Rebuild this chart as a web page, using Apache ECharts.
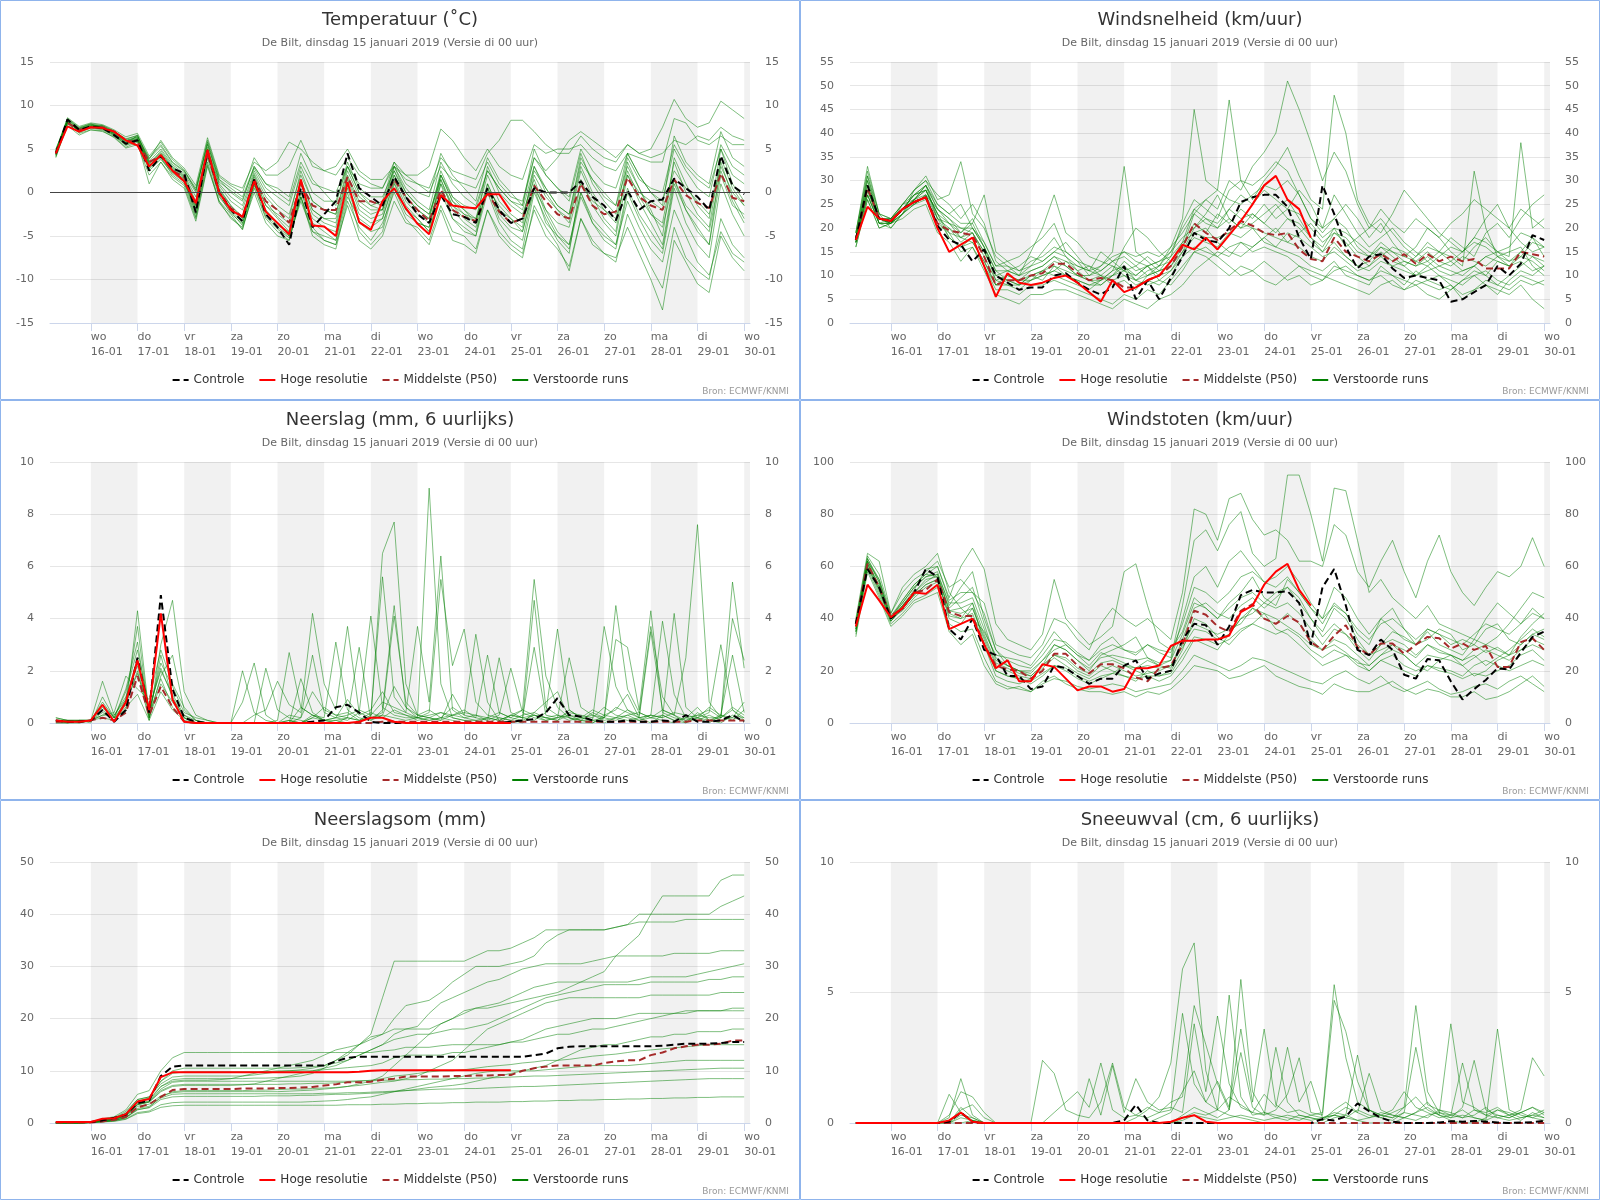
<!DOCTYPE html>
<html>
<head>
<meta charset="utf-8">
<title>ECMWF pluim De Bilt</title>
<script src="https://cdn.jsdelivr.net/npm/echarts@6/dist/echarts.min.js"></script>
<style>
  body { margin: 0; background: #fff; }
  .panel { position: absolute; width: 800px; height: 400px; }
</style>
</head>
<body>
<div class="panel" id="temp" style="left:0;top:0"></div>
<div class="panel" id="wind" style="left:800px;top:0"></div>
<div class="panel" id="prec" style="left:0;top:400px"></div>
<div class="panel" id="gust" style="left:800px;top:400px"></div>
<div class="panel" id="sum" style="left:0;top:800px"></div>
<div class="panel" id="snow" style="left:800px;top:800px"></div>
<script>
// tijdstippen: uren na 15-01 00 UTC (15-01 06 t/m 30-01 00, 6-uurlijks)
const hours = [6,12,18,24,30,36,42,48,54,60,66,72,78,84,90,96,102,108,114,120,126,132,138,144,150,156,162,168,174,180,
  186,192,198,204,210,216,222,228,234,240,246,252,258,264,270,276,282,288,294,300,306,312,318,324,330,336,342,348,354,360]
const dayTicks = [24,48,72,96,120,144,168,192,216,240,264,288,312,336,360]
const dayLabels = ['wo\n16-01','do\n17-01','vr\n18-01','za\n19-01','zo\n20-01','ma\n21-01','di\n22-01','wo\n23-01',
  'do\n24-01','vr\n25-01','za\n26-01','zo\n27-01','ma\n28-01','di\n29-01','wo\n30-01']
// grijze banden (even dagen)
const greyDays = [[24,48],[72,96],[120,144],[168,192],[216,240],[264,288],[312,336],[360,363]]
const subTitle = 'De Bilt, dinsdag 15 januari 2019 (Versie di 00 uur)'

// ---- Temperatuur ----
const tempControl = [4.5,8.4,7.2,7.6,7.4,6.6,5.6,6.0,2.5,4.2,2.8,2.2,
  -2.3,4.8,0.0,-2.0,-3.3,1.5,-2.5,-4.0,-6.0,0.5,-4.0,-2.5,
  -1.0,4.5,0.5,-0.5,-1.5,1.8,-0.5,-2.5,-3.5,-0.3,-2.5,-2.8,
  -3.5,0.5,-2.0,-3.5,-3.0,0.5,0.0,0.0,0.0,1.3,-0.5,-1.5,
  -3.2,0.2,-2.0,-1.0,-0.8,1.6,0.5,-0.5,-2.0,4.2,0.8,-0.2]
const tempHires = [4.5,7.6,7.0,7.5,7.4,7.0,6.0,5.4,3.0,4.3,2.5,1.3,
  -1.2,4.9,0.0,-2.0,-2.8,1.3,-2.2,-3.5,-4.8,1.5,-3.8,-3.9,
  -5.0,1.2,-3.4,-4.3,-1.0,0.5,-1.8,-3.6,-4.8,-0.3,-1.5,-1.7,
  -1.8,-0.2,-0.2,-2.2]
const tempP50 = [4.5,8.0,7.2,7.5,7.5,7.0,6.0,5.8,3.5,4.2,2.5,1.8,
  -1.5,4.5,0.0,-1.8,-2.8,1.5,-1.0,-2.0,-3.5,1.0,-1.5,-2.0,
  -2.0,1.8,-1.0,-1.0,-1.5,1.5,-0.5,-2.0,-3.3,0.3,-2.0,-2.8,
  -3.3,0.0,-2.2,-3.5,-3.0,0.8,-1.0,-2.5,-3.0,1.0,-1.5,-2.5,
  -2.2,1.7,-0.5,-1.5,-2.0,1.5,-0.3,-1.2,-1.8,2.2,-0.6,-1.0]
const tempRuns = [
  [4.2,8.3,7.0,7.6,7.5,6.8,5.7,6.2,3.0,4.5,2.8,1.8, -2.0,4.5,0.5,-1.5,-3.0,1.8,-1.5,-3.0,-4.5,1.0,-2.5,-3.5,
   -4.0,1.5,-2.0,-3.0,-2.5,2.0,-1.0,-2.5,-3.5,1.0,-1.5,-2.5, -3.0,0.5,-2.5,-4.0,-4.5,0.5,-2.0,-3.5,-4.0,1.0,-1.0,-2.0,
   -3.0,2.0,0.0,-1.0,-2.0,2.5,0.5,-1.0,-2.5,3.0,0.0,-1.5],
  [4.8,8.0,7.3,7.8,7.6,7.0,6.2,6.5,4.0,5.5,3.5,2.5, 0.5,5.5,1.5,0.5,-0.5,3.0,1.0,0.0,-1.0,3.5,1.0,0.5,
   0.0,3.0,1.0,0.5,0.5,3.0,1.5,1.0,0.5,4.0,2.5,2.0, 1.5,4.5,6.0,8.3,8.3,7.0,5.5,4.5,4.5,6.5,5.0,4.0,
   3.5,5.5,4.5,4.0,4.5,6.0,5.5,6.5,6.0,7.5,6.5,6.0],
  [4.0,8.0,6.8,7.2,7.0,6.4,5.2,5.8,1.0,3.5,1.5,0.5, -3.3,3.0,-1.0,-2.5,-4.3,0.5,-3.0,-4.5,-5.5,-0.5,-4.0,-5.5,
   -6.0,-1.5,-5.5,-6.5,-5.0,-1.0,-3.5,-4.0,-5.5,-1.5,-4.5,-5.0, -6.5,-2.0,-4.5,-6.0,-7.0,-2.0,-5.0,-6.5,-8.5,-3.0,-6.0,-7.0,
   -7.5,-4.0,-7.0,-10.0,-13.5,-5.5,-8.0,-10.5,-11.5,-5.0,-7.5,-9.0],
  [4.5,8.5,7.5,7.9,7.4,6.6,5.5,6.6,3.5,4.0,2.0,1.0, -1.5,5.0,0.0,-2.0,-3.5,1.0,-2.0,-3.5,-5.0,0.0,-3.5,-4.5,
   -5.5,0.5,-3.5,-4.5,-4.0,1.0,-2.0,-3.0,-4.5,0.0,-3.0,-4.0, -5.0,1.0,-2.0,-3.5,-3.0,2.5,0.5,-1.5,-2.5,3.5,1.5,0.0,
   -1.5,3.0,0.5,-2.5,-4.0,1.5,-1.5,-3.0,-4.5,2.5,-1.0,-3.5],
  [5.0,8.2,7.2,7.7,7.7,7.1,6.0,6.0,3.8,6.0,4.0,2.8, 0.8,6.3,2.0,1.0,0.5,3.5,2.5,3.5,5.8,5.0,3.5,2.5,
   2.0,4.0,2.0,1.0,0.5,3.5,2.0,1.0,0.0,3.0,1.5,1.0, 0.5,3.5,1.0,-0.5,-1.0,4.0,2.5,4.0,6.0,7.0,6.0,5.0,
   4.0,5.5,4.5,5.0,7.5,10.7,8.5,7.5,8.0,10.5,9.5,8.5],
  [4.3,7.9,6.9,7.4,7.2,6.5,5.4,5.9,2.5,3.8,2.2,1.2, -2.8,4.0,-0.5,-2.2,-3.8,1.2,-2.5,-4.0,-5.0,-0.5,-4.5,-5.0,
   -5.5,0.0,-4.5,-6.0,-4.5,0.5,-2.5,-3.5,-4.0,2.0,-1.0,-2.0, -3.5,3.0,0.0,-1.5,-2.5,1.5,-2.0,-4.5,-6.0,0.0,-3.0,-4.5,
   -6.0,-1.0,-4.0,-6.5,-8.0,-2.0,-5.0,-8.0,-9.5,-4.5,-7.0,-8.0],
  [4.6,8.1,7.1,7.5,7.3,6.9,5.9,6.3,3.2,4.8,3.0,2.0, -0.5,5.2,1.0,-0.5,-1.5,2.5,0.0,-1.5,-2.5,2.0,-1.0,-2.0,
   -2.5,2.5,-0.5,-1.5,-1.0,3.5,1.0,0.0,-0.5,4.5,2.0,0.5, -1.0,4.0,1.5,0.0,-1.5,5.0,2.0,0.5,-1.0,4.5,1.0,-1.0,
   -2.5,4.0,1.5,0.5,0.0,5.5,3.0,1.5,0.5,5.0,2.0,1.0],
  [4.4,8.2,7.0,7.6,7.6,6.7,5.6,6.1,2.8,4.2,2.6,1.5, -2.5,3.5,-1.0,-3.0,-4.0,0.0,-3.5,-5.0,-5.5,-0.5,-5.0,-6.0,
   -6.5,-1.0,-4.0,-5.5,-3.5,0.0,-3.0,-4.5,-6.0,-2.0,-5.5,-6.0, -7.0,-2.0,-5.0,-6.5,-7.5,-1.5,-4.0,-6.0,-9.0,-3.0,-5.5,-7.0,
   -8.0,-2.5,-5.5,-8.5,-11.0,-4.0,-7.5,-9.0,-10.0,-3.0,-6.0,-7.5],
  [4.7,8.4,7.4,7.8,7.5,7.0,6.1,6.6,3.6,5.0,3.2,2.2, 0.0,5.8,1.5,0.0,-1.0,3.0,1.0,0.5,-0.5,4.5,1.5,0.0,
   -1.5,3.5,0.5,-0.5,-0.5,2.5,0.0,-1.5,-2.5,1.5,-1.5,-3.0, -4.0,0.5,-1.5,-3.0,-4.5,1.0,-2.5,-5.0,-6.5,-0.5,-3.5,-5.0,
   -6.0,0.5,-2.5,-4.5,-6.5,1.0,-2.0,-4.5,-6.0,2.0,-1.5,-2.5],
  [4.1,7.7,6.6,7.2,7.1,6.3,5.1,5.5,2.0,3.5,1.8,0.8, -3.0,3.2,-1.2,-2.8,-4.2,0.8,-2.8,-4.2,-5.2,-1.0,-4.5,-5.5,
   -6.0,-0.5,-3.0,-4.0,-3.0,1.5,-1.5,-3.0,-4.5,1.0,-3.0,-4.5, -5.0,0.0,-3.5,-5.5,-6.5,0.0,-3.0,-5.5,-7.0,1.5,-1.5,-3.5,
   -5.0,2.0,-1.0,-3.5,-6.0,1.5,-2.0,-4.0,-6.0,3.5,-0.5,-3.0],
  [4.9,8.6,7.6,8.0,7.8,7.2,6.4,6.8,4.2,5.8,3.8,2.6, 0.2,6.0,1.8,0.8,0.0,4.0,2.0,2.0,3.0,6.0,3.0,2.5,
   3.0,5.0,2.5,1.5,1.5,3.0,2.0,2.0,3.0,7.3,6.0,4.0, 2.5,5.0,3.0,2.0,1.5,5.5,4.5,5.0,5.0,5.5,4.0,3.0,
   2.5,4.5,4.0,3.5,3.5,8.5,8.0,6.0,5.5,6.5,5.5,5.5],
  [4.5,8.0,7.2,7.6,7.4,6.8,5.8,6.2,3.3,4.4,2.4,1.6, -1.8,4.6,0.2,-1.8,-3.2,1.5,-1.5,-2.5,-3.5,1.2,-2.0,-3.0,
   -3.5,1.8,-1.5,-2.5,-2.0,2.5,-0.5,-2.0,-3.0,2.5,-0.5,-2.0, -3.0,2.0,-1.0,-2.5,-3.5,3.0,0.0,-2.0,-3.5,2.5,-0.5,-3.0,
   -4.5,3.5,0.5,-2.0,-5.0,4.0,1.0,-1.5,-3.0,5.0,1.0,-1.0],
  [4.6,8.3,7.3,7.7,7.5,6.9,5.9,6.4,3.4,4.6,2.9,1.9, -1.0,5.0,0.8,-1.0,-2.0,2.2,-0.5,-2.0,-3.0,2.5,-1.0,-2.0,
   -2.5,3.0,0.0,-1.0,-1.5,3.0,0.5,-1.0,-2.0,3.5,1.0,-0.5, -1.5,2.5,0.5,-1.0,-2.0,3.0,0.5,-1.5,-2.5,4.0,1.5,-0.5,
   -1.5,4.5,2.0,0.0,-1.0,5.0,2.5,0.5,-0.5,5.5,3.0,2.0],
  [4.3,8.1,7.1,7.5,7.3,6.6,5.5,6.0,2.7,4.0,2.3,1.4, -2.2,4.2,-0.3,-2.4,-3.6,1.0,-2.2,-3.8,-4.5,0.2,-3.0,-4.0,
   -4.5,0.8,-2.5,-3.5,-3.0,1.2,-2.0,-3.5,-4.0,1.5,-2.0,-3.5, -4.5,0.5,-3.0,-4.5,-5.5,0.5,-3.5,-5.0,-6.0,0.0,-3.5,-5.5,
   -6.5,0.0,-3.0,-5.5,-7.0,0.5,-3.5,-6.0,-7.5,1.0,-2.5,-5.0],
  [4.8,8.4,7.4,7.9,7.7,7.0,6.0,6.4,3.9,5.3,3.4,2.4, 0.3,5.6,1.2,0.2,-0.8,2.8,0.5,-0.5,-1.5,3.0,0.0,-1.0,
   -1.0,3.0,0.0,-1.5,-2.0,2.0,-0.5,-2.0,-3.0,2.0,-0.5,-1.5, -2.0,2.5,0.5,-1.0,-1.5,4.0,2.0,0.5,-0.5,5.0,2.5,1.0,
   0.5,4.5,2.0,0.0,-1.5,6.5,3.5,2.0,1.0,7.0,4.0,3.0],
  [4.4,8.2,7.0,7.5,7.4,6.7,5.7,6.1,3.1,4.3,2.7,1.7, -1.5,4.7,0.3,-1.5,-2.8,2.0,-1.0,-2.8,-4.0,1.5,-2.0,-3.0,
   -3.0,2.0,-1.0,-2.0,-2.0,3.0,0.0,-1.5,-2.5,2.0,-1.0,-2.5, -3.5,1.0,-2.0,-3.0,-4.0,2.0,-0.5,-2.0,-3.0,3.0,0.0,-2.0,
   -3.5,2.5,-0.5,-2.5,-3.5,3.5,0.0,-2.5,-4.0,4.0,0.5,-1.5]
]

// ---- Windsnelheid ----
const windControl = [17.5,29,22,21.5,24,25.5,26.5,20.5,17.5,16.5,13,15.5,
  10,8.5,7,7.5,7.5,10,10.5,8.5,7,6,7.5,12,
  5,9,5,9.5,14,19,17.5,17,20,25.5,26.5,27,
  27,24.5,18,13.5,29,23,16,11.5,14,14.5,11.5,9.5,
  10,9.5,9,4.5,5,6.5,8,12,10,12.5,18.5,17.5]
const windHires = [17.5,24.5,22,21.5,24,25.5,26.5,20,15,16.5,18,12,
  5.5,10.5,8.5,8,8.5,9.5,10,8.5,6.5,4.5,9,6.5,
  7.5,9,10,13,16.5,15.5,18,15.5,18.5,21.5,25,29,
  31,26,24,18]
const windP50 = [17.5,28.5,22,21.5,24,25.5,26.5,21,19.5,19,18.5,14,
  8,9,9,10,10.5,12.5,12.5,10.5,9,9.5,9,7.5,
  7.5,9,10,12,16,21,19,17.5,19.5,21.5,20.5,19,
  18.5,19,15.5,13.5,13,18,15,14,13,14.5,13,14.5,
  12.5,14.5,13,14,13,13.5,11.5,11.5,11.5,15,14.5,14]
const windRuns = [
  [18,30,22,21,24,27,28,22,20,17,19,14, 9,10,9,11,12,14,12,10,9,8,10,12, 9,11,12,15,18,20,22,20,24,22,23,21,
   24,26,22,18,15,17,14,12,13,16,14,12, 10,11,12,13,11,12,14,15,13,14,17,16],
  [17,27,21,22,25,26,27,24,21,19,22,17, 12,13,11,12,15,18,14,11,12,10,8,9, 7,10,11,14,21,26,24,22,28,30,29,31,
   34,32,27,22,20,27,23,19,16,18,20,17, 15,13,15,14,12,32,20,14,15,16,12,10],
  [19,33,23,20,23,28,31,26,27,34,23,20, 14,12,10,15,20,27,19,17,14,13,12,11, 10,12,9,8,11,15,16,14,12,10,11,9,
   8,10,12,11,10,9,8,7,6,8,9,7, 8,6,5,7,9,10,8,7,6,8,5,3],
  [16,26,20,21,22,24,25,19,17,13,16,11, 6,5,4,6,6,7,7,6,5,4,3,5, 4,3,5,6,8,11,13,15,14,17,16,18,
   20,17,19,21,18,20,16,18,20,24,21,19, 22,20,18,21,23,26,24,22,20,24,22,20],
  [18,29,22,22,24,26,29,25,23,25,20,16, 11,9,8,10,9,12,10,9,8,9,11,16, 20,18,15,13,16,23,26,24,30,28,33,36,
   40,51,45,38,30,36,32,25,20,22,19,16, 14,17,15,18,16,14,19,21,18,22,25,27],
  [17,28,21,21,24,25,27,20,20,18,17,13, 8,8,7,9,10,11,13,12,11,10,9,10, 8,9,8,10,14,19,20,17,15,14,16,18,
   16,15,14,12,11,13,10,9,8,12,10,8, 11,9,10,8,6,7,9,8,10,12,14,13],
  [18,31,22,21,25,28,30,27,25,22,25,21, 13,11,12,14,13,15,17,14,11,15,13,11, 12,14,12,16,22,45,30,28,47,30,26,30,
   33,37,31,26,24,48,40,26,21,19,23,28, 25,22,19,17,15,18,22,25,20,17,15,16],
  [17,27,21,20,23,26,28,23,18,16,18,12, 7,7,6,8,8,9,8,7,6,5,4,6, 5,7,6,9,12,15,14,12,10,12,11,13,
   11,9,10,8,9,11,12,10,9,10,8,7, 9,8,7,8,5,7,8,6,9,11,10,12],
  [19,32,23,22,25,28,30,25,23,21,21,27, 15,13,14,16,18,21,15,13,10,12,15,33, 15,13,11,12,16,21,19,23,21,24,22,25,
   22,24,28,25,20,22,25,22,18,21,17,14, 16,20,18,15,13,16,18,15,14,38,20,22],
  [16,26,20,21,23,25,26,21,19,15,16,12, 8,10,9,9,11,10,9,8,7,9,10,13, 11,12,10,11,15,18,17,16,19,18,20,17,
   16,19,18,16,14,15,13,11,12,14,12,13, 12,13,11,10,11,12,10,13,12,15,18,14],
  [18,28,22,22,24,27,28,23,21,20,19,15, 10,11,10,11,12,14,13,11,9,10,12,10, 9,10,12,13,17,24,22,21,24,27,25,28,
   26,24,23,20,17,19,18,15,14,17,15,14, 13,15,13,12,14,13,12,14,13,15,14,12],
  [17,29,21,21,23,26,29,24,22,19,21,16, 9,8,8,10,11,12,11,10,10,11,13,14, 12,10,11,12,15,20,23,27,22,20,23,21,
   19,22,21,18,16,20,19,17,15,14,16,15, 13,12,14,16,15,17,16,14,12,13,11,12],
  [18,30,22,21,24,27,29,22,21,18,19,15, 10,9,9,10,11,13,12,10,9,9,11,12, 10,12,13,15,20,24,26,28,26,25,27,29,
   28,30,27,22,19,22,20,16,14,16,15,13, 12,14,12,11,10,12,14,13,12,14,13,11],
  [17,28,22,21,24,26,28,23,19,18,20,16, 11,11,10,12,13,15,14,12,11,12,14,15, 13,12,13,14,17,19,18,18,19,21,20,19,
   18,17,16,14,13,16,14,12,11,13,12,11, 10,12,10,9,8,10,11,9,8,10,9,8],
  [19,31,23,22,25,27,29,24,22,20,20,17, 12,12,11,13,14,16,15,13,12,11,13,15, 14,15,14,16,19,23,21,20,22,20,21,23,
   25,22,20,17,15,19,17,14,12,15,13,12, 14,16,15,13,15,18,17,15,16,19,18,16],
  [17,27,21,21,23,25,27,22,18,16,17,13, 8,9,8,9,10,11,10,9,8,8,10,11, 9,8,9,11,14,16,15,14,16,17,15,16,
   15,14,12,10,9,12,11,10,9,11,10,9, 8,9,8,7,9,11,10,8,7,9,8,9]
]

// ---- Neerslag ----
const precControl = [0.1,0.05,0.05,0.1,0.5,0.05,0.5,2.5,0.4,4.9,1.3,0.2,
  0.05,0,0,0,0,0,0,0,0,0,0.05,0.1,
  0.6,0.7,0.4,0.05,0,0,0,0,0,0,0,0,
  0,0,0,0.05,0.1,0.15,0.4,0.95,0.3,0.25,0.1,0.05,
  0.05,0.1,0.05,0.05,0.1,0.05,0.3,0.05,0.05,0.1,0.3,0.05]
const precHires = [0.1,0.05,0.05,0.1,0.7,0.05,0.8,2.4,0.5,4.2,0.9,0.05,
  0,0,0,0,0,0,0,0,0,0,0,0,
  0,0,0.05,0.2,0.2,0.05,0,0,0,0,0,0,
  0,0,0,0]
const precP50 = [0.05,0.05,0.05,0.1,0.2,0.1,0.4,1.8,0.3,1.4,0.6,0.05,
  0,0,0,0,0,0,0,0,0,0,0,0,
  0,0,0,0,0.05,0.05,0.05,0.05,0.05,0.05,0.05,0.05,
  0.05,0.05,0.05,0.05,0.05,0.05,0.05,0.05,0.05,0.05,0.05,0.05,
  0.05,0.05,0.05,0.05,0.05,0.05,0.05,0.1,0.1,0.1,0.1,0.1]
const precRuns = [
  [0.1,0,0.1,0.1,0.8,0.2,1.2,2.8,0.6,2.0,1.1,0.3, 0.1,0,0,0,0,0,0,0,0,0.2,1.2,0.5,
   0.3,0.4,0.1,0.2,6.5,7.7,1.5,0.3,0.5,0.2,0.1,0, 0,0,0.2,0.1,0,0.4,0.8,1.2,0.2,0,0,0.3,
   0.5,1.1,0.2,0,0.3,0.1,0,0.4,0.1,0.2,0.5,0.1],
  [0.2,0.1,0.1,0.1,1.6,0.3,0.9,3.7,0.2,1.5,0.8,0.2, 0,0,0,0,0.8,2.3,0.3,0,0.1,0,0.3,0.1,
   0,0.2,2.9,0.1,0.5,4.5,0.6,0.2,9.0,1.5,0.2,0.1, 0,0.2,0.1,0,0.1,0.3,0.2,0.1,0.5,0.2,0.1,0,
   0.2,0.5,0.3,3.7,1.0,0.3,0,0.2,0,0.3,0.1,0.5],
  [0.1,0.1,0,0.1,0.5,0.1,0.7,2.0,0.1,3.0,4.7,1.2, 0.3,0.1,0,0,0,0,2.1,0.5,0.2,0.1,0,0,
   0.1,0,0,0.3,5.6,1.0,0.4,3.7,0.8,6.4,0.5,0.2, 0.1,0,0,0.3,0.5,5.5,1.8,0.6,0.2,0.1,0,0.2,
   4.5,1.3,0.4,0.2,0.1,0,0.2,0.6,0.1,0,0.3,0.2],
  [0,0,0.1,0.1,0.3,0.4,1.8,1.3,0.9,2.8,1.5,0.6, 0.1,0,0,0,0,0,0,0.1,2.7,0.6,0.3,0.2,
   3.1,0.5,0.2,0.1,0.3,0.2,0.1,0.2,0.4,5.5,2.2,3.6, 0.8,0.3,0.2,0.1,0.3,0.4,0.2,0.1,0.3,0.2,0.1,3.7,
   1.4,0.5,0.2,0.3,3.9,1.1,0.2,0.1,0.3,0.1,0.2,0.8],
  [0.1,0.1,0.1,0,1.0,0.2,0.5,4.3,0.3,1.7,0.6,0.2, 0,0,0,0,0,0.3,0.5,1.6,0.7,0.4,4.2,1.5,
   0.5,3.7,0.4,4.1,0.6,0.3,0.2,0.2,0.1,0.2,0.6,0.3, 3.4,0.8,0.1,0.3,0.2,0.1,0.4,3.6,0.5,0.2,0.3,0.1,
   0.2,0.1,0.2,0.3,0.2,4.2,0.6,0.2,0.1,0.3,0.2,0.1],
  [0.2,0.1,0.1,0.1,0.6,0.1,0.9,2.5,0.4,2.3,1.4,0.4, 0.2,0.1,0,0,2.0,0.4,0.1,0,0,0,0.2,0.6,
   0.3,0.2,0.1,0.2,0.4,4.1,0.8,0.3,0.2,0.1,0.3,0.5, 0.2,2.6,0.4,0.2,0.1,4.7,0.6,0.3,0.2,0.1,0.1,0.2,
   3.2,2.9,0.5,4.3,0.4,0.2,0.1,0.3,0.2,0.2,4.0,2.4],
  [0,0,0.1,0.1,0.4,0.2,1.3,3.1,0.2,2.6,0.9,0.3, 0,0,0,0,0,0,0,0,0,1.7,0.4,0.1,
   0.2,0.9,0.3,0.5,1.2,0.4,0.3,0.2,0.1,0.2,0.3,0.4, 0.3,0.1,2.5,0.4,0.2,2.9,0.3,0.2,2.5,0.6,0.3,0.2,
   0.1,0.3,0.4,0.2,0.5,0.3,2.5,7.6,0.8,0.2,0.6,0.3],
  [0.1,0,0,0.1,0.2,0.1,0.6,1.1,0.1,1.2,0.5,0.1, 0,0,0,0,0,0,0,0,0.1,0,0.2,0.1,
   0.2,0.1,0.4,0.2,0.3,1.4,0.6,0.3,0.2,0.1,1.1,0.3, 0.2,0.1,0.3,2.1,0.4,0.2,0.1,0.2,0.3,0.1,0.4,0.2,
   0.6,0.4,0.2,3.5,0.5,0.3,0.1,0.2,0.4,3.0,0.5,0.2],
  [0.1,0.1,0.1,0.1,0.7,0.2,0.8,1.9,0.5,2.1,1.0,0.2, 0,0,0,0,0,0,0,0,0.3,0.2,2.6,0.4,
   0.2,0.3,0.5,0.3,0.8,0.6,0.4,0.2,0.3,0.4,0.2,0.1, 0.1,0.2,0.4,0.2,0.5,0.3,0.2,0.3,0.1,0.2,0.5,0.3,
   0.2,0.3,0.1,0.2,0.3,0.1,0.2,0.3,0.5,0.2,5.4,2.1],
  [0,0,0,0.1,0.3,0.3,1.0,2.2,0.2,1.8,2.6,0.5, 0.1,0,0,0,0,0,0,0,0,0.6,0.3,0.1,
   0.1,0.2,0.1,0.4,0.2,0.5,0.3,0.1,0.2,0.4,0.3,0.2, 0.3,0.2,0.1,0.3,0.2,0.3,0.1,0.2,0.4,0.3,0.2,0.6,
   0.3,0.2,0.1,0.3,0.2,0.4,0.3,0.2,0.6,0.3,2.6,0.4]
]

// ---- Windstoten ----
const gustControl = [38,59,52,40,44,50,59,56,36,32,40,28,
  26,18,18,13,14,22,21,18,15,17,17,22,
  24,17,19,20,32,38,37.5,30,37,49,51,50,
  50,50.5,46,30,52,59,45,28,26,32,28,18.5,
  17,24.5,24,16,9,13,16.5,21,20.5,27,33,35]
const gustHires = [37,53,47,40.5,44,50,49.5,53,36,38,40,30,
  21,24,16,16,22.5,21.5,17,12.5,14,14,12,13,
  21,21,22,29.5,31.5,31.5,32,32,33.5,42.5,45,53,
  58,61,51,45]
const gustP50 = [38,61,52,41,44,50,51,55,42.5,41,41,30,
  22,20.5,20,17,20,26.5,26.5,22,19,22.5,22.5,21,
  17.5,16,21,22,30,43,41.5,37,35,43,45.5,40,
  38,41,38.5,31,28,33.5,37.5,29,26,30.5,30.5,26.5,
  30,33,32.5,28.5,30.5,28,29.5,21.5,21.5,31,32.5,28]
const gustRuns = [
  [36,62,55,41,46,52,56,58,45,52,58,40, 28,22,20,18,22,30,28,24,20,26,28,30, 33,25,22,24,40,56,60,52,62,66,60,54,
   56,60,54,46,40,52,48,40,34,40,44,36, 30,32,36,34,28,30,36,38,32,30,34,36],
  [35,60,50,39,44,49,53,55,40,38,44,32, 20,18,17,15,18,22,20,17,15,17,19,22, 20,18,16,18,24,32,30,28,34,40,42,46,
   50,52,48,40,35,44,40,32,26,28,30,26, 22,20,24,26,22,18,20,24,26,28,32,30],
  [40,65,62,42,52,57,60,65,50,44,40,35, 26,25,24,22,28,35,30,26,24,30,33,28, 26,30,27,25,45,70,74,66,76,81,65,60,
   63,95,95,80,62,90,89,70,50,55,48,44, 40,45,38,36,34,32,40,46,42,38,44,40],
  [33,58,48,37,41,46,48,50,35,30,34,22, 15,13,14,12,16,18,15,13,12,12,11,12, 10,12,11,13,17,22,21,20,17,18,20,22,
   18,16,14,13,11,15,13,12,12,14,16,13, 11,13,12,10,10,12,9,10,12,15,18,14],
  [38,63,54,40,45,51,59,60,48,60,67,59, 38,32,30,28,34,55,40,35,30,33,37,58, 61,45,31,28,35,48,44,40,46,50,56,48,
   45,55,50,44,40,45,42,34,30,40,36,32, 30,35,30,28,26,32,30,33,38,44,50,48],
  [37,61,53,40,43,48,52,54,42,40,46,30, 18,16,15,17,22,26,24,20,18,22,20,18, 16,20,18,20,28,40,38,33,30,35,38,42,
   40,37,34,30,28,30,27,23,22,26,30,28, 25,30,27,26,24,26,22,25,28,32,36,33],
  [39,64,57,42,50,55,58,62,52,55,50,46, 30,28,26,25,30,40,38,32,28,38,44,40, 37,40,36,32,50,82,80,70,86,88,78,72,
   74,70,62,62,60,76,72,58,52,62,70,58, 48,62,72,58,50,45,52,58,56,60,71,60],
  [34,59,49,38,42,47,49,52,38,35,36,25, 16,14,13,12,15,17,16,14,13,14,15,14, 12,13,14,15,20,26,24,22,20,22,25,24,
   22,20,18,16,15,18,20,17,15,18,14,12, 14,16,13,11,12,14,15,13,16,18,15,12],
  [36,62,52,40,47,53,57,56,44,48,52,38, 24,22,20,19,24,28,30,26,22,27,25,23, 21,24,22,21,32,44,46,42,40,45,48,44,
   48,52,46,40,33,38,34,28,24,30,35,33, 30,36,34,30,32,30,27,29,26,33,38,42],
  [35,61,51,39,45,50,54,57,43,42,44,33, 22,20,18,17,21,25,22,19,17,20,22,20, 18,19,20,22,30,38,36,34,36,38,44,42,
   36,34,30,26,22,24,26,24,20,24,22,20, 18,22,20,19,17,19,18,20,22,26,28,24],
  [37,62,54,40,46,52,56,57,46,46,48,36, 25,22,20,20,24,30,28,24,21,25,26,25, 24,25,23,24,34,46,44,40,44,48,50,46,
   44,46,42,36,30,36,34,30,26,30,32,30, 26,30,28,26,24,28,30,28,26,30,34,32],
  [35,60,51,39,44,49,53,55,41,40,42,30, 20,18,17,16,19,22,21,18,16,18,19,18, 17,18,18,19,26,33,32,30,32,36,38,36,
   34,36,33,28,25,28,26,22,20,24,26,22, 20,22,21,20,18,22,24,22,20,22,24,22],
  [38,63,55,41,47,53,57,60,47,50,50,42, 28,24,22,21,26,32,31,27,24,28,30,28, 27,30,28,27,38,52,50,46,50,56,58,54,
   52,56,50,44,38,46,42,36,32,38,40,36, 32,36,34,32,30,34,38,36,34,38,42,40],
  [36,61,52,40,45,50,55,56,43,44,46,34, 23,21,19,18,22,26,25,21,19,23,24,22, 21,22,21,22,29,36,35,32,34,40,44,40,
   38,42,38,32,28,32,30,26,22,26,28,26, 22,26,25,24,22,25,28,26,24,28,30,28]
]

// ---- Neerslagsom ----
const sumControl = [0.2,0.2,0.2,0.2,0.5,1.0,1.6,3.8,4.3,9.0,10.8,11,
  11,11,11,11,11,11,11,11,11,11,11,11,
  11.8,12.5,12.7,12.7,12.7,12.7,12.7,12.7,12.7,12.7,12.7,12.7,
  12.7,12.7,12.7,12.7,12.7,13.0,13.3,14.3,14.6,14.7,14.7,14.7,
  14.7,14.7,14.7,14.7,14.8,15.0,15.2,15.2,15.2,15.3,15.5,15.5]
const sumHires = [0.2,0.2,0.2,0.2,0.8,0.9,1.7,4.1,4.6,8.8,9.7,9.7,
  9.7,9.7,9.7,9.7,9.7,9.7,9.7,9.7,9.7,9.7,9.7,9.7,
  9.7,9.7,9.8,10.0,10.1,10.1,10.1,10.1,10.1,10.1,10.1,10.1,
  10.1,10.1,10.1,10.1]
const sumP50 = [0.1,0.1,0.1,0.1,0.3,0.6,1.2,3.0,3.6,5.0,6.3,6.5,
  6.5,6.5,6.5,6.5,6.6,6.6,6.6,6.7,6.7,6.8,6.9,7.2,
  7.4,7.8,7.8,7.9,8.3,8.5,8.9,8.9,8.9,8.9,9.0,9.0,
  9.1,9.1,9.2,9.2,10.0,10.5,10.8,11.0,11.0,11.0,11.0,11.5,
  11.8,12.0,12.0,13.0,13.5,14.3,14.7,15.0,15.0,15.2,15.8,15.8]
const sumRuns = [
  [0,0,0,0.1,0.8,1.0,2.2,4.5,5.0,7.5,8.8,9.0, 9,9,9,9,9,9.2,9.5,9.8,10,10.2,10.5,11,
   12,13,15,17,24,31,31,31,31,31,31,31, 32,33,33,33.5,34.5,35.5,37,37,37,37,37,37,
   37.5,38,38.5,38.5,38.5,38.5,39,39,39,39,39,39],
  [0,0,0,0.1,0.5,0.7,1.5,3.5,4.0,6.0,7.0,7.2, 7.2,7.2,7.2,7.2,7.3,7.5,8.0,8.5,9.0,9.5,10.0,10.5,
   11,12,13,14,15,17,18,18,18,19,20,21.5, 22,22,22.5,23,23.5,24,24.5,25,26,27,28,29,
   32,34,36,40,43.5,43.5,43.5,43.5,43.5,46.5,47.5,47.5],
  [0,0,0,0.1,0.6,0.9,1.8,4.0,4.6,7.0,8.0,8.2, 8.2,8.2,8.3,8.5,9,9.5,10,10.5,11,11.5,12,13,
   14,14.5,15,16,17,20,22.5,23,23.5,25,27,28.5, 30,30,30,30.5,31,32,34.5,36,37,37,37,37,
   37.5,38,40,40,40,40,40,40,40,41.5,42.5,43.5],
  [0,0,0,0.1,0.6,0.8,1.5,3.8,4.2,7.0,8.3,8.5, 8.5,8.5,8.5,8.5,8.5,8.6,8.6,8.7,8.8,9.0,9.5,10.5,
   12,13.5,15,16.5,17,18,18,18.5,21,23,24,25, 26,27,27.5,28.5,29.5,30,30.5,30.5,30.5,30.5,31,31.5,
   32,32,32,32,32,32.5,32.5,32.5,32.5,33,33,33],
  [0,0,0,0.1,0.3,0.5,1.0,2.5,3.0,5.0,6.0,6.2, 6.2,6.2,6.2,6.2,6.2,6.3,6.3,6.4,6.5,6.5,6.6,6.7,
   6.8,7.0,7.5,8.0,9,11,13,15,17,19,20,21, 22,22.5,23,24,25,26,26.5,27,27,27,27,27,
   27,27,27.5,28,28,28,28,28.5,29,29.5,30,30.5],
  [0,0,0,0.1,0.5,0.8,1.6,4.2,4.8,8.0,10,10.5, 10.5,10.5,10.5,10.5,10.5,10.5,10.5,10.5,10.5,10.6,10.8,11,
   11.5,12,13,14,15,16,16.5,17,17,17.5,18,18, 18.5,19,20,21,22,23,24,24.5,25,25.5,26,26.5,
   26.5,26.5,26.5,27,27,27,27,27,27.5,27.5,28,28],
  [0,0,0,0.1,0.4,0.6,1.3,3.2,3.6,5.2,5.8,6.0, 6.0,6.0,6.0,6.0,6.0,6.0,6.0,6.0,6.1,6.2,6.3,6.5,
   6.7,7.0,7.2,7.5,7.8,8.0,8.5,9.0,10,11,12,14, 16,18,19,20,21,22,23,23.5,24,24,24,24,
   24,24,24,24.5,24.5,24.5,24.5,24.5,24.5,25,25,25],
  [0,0,0,0.1,0.7,0.9,1.9,4.5,5.0,8.0,9.5,9.8, 9.8,9.8,9.8,9.8,9.8,9.8,9.8,10,10,10,10,10.2,
   10.4,10.6,10.8,11,11.5,12.5,13,13,13,13,13.5,13.5, 14,14.5,15,15.5,16,17,18,18.5,19,19.5,20,20,
   20,20.5,21,21,21,21,21.5,21.5,21.5,21.5,22,22],
  [0,0,0,0.1,0.3,0.5,1.1,2.6,2.9,4.5,5.0,5.1, 5.1,5.1,5.1,5.1,5.1,5.1,5.2,5.2,5.2,5.3,5.3,5.4,
   5.5,5.5,5.6,5.7,5.8,6.0,6.2,6.5,6.8,7,7.2,7.5, 8,8.5,9,9.5,10,10.5,11,12,13,14,14.5,15,
   15,15.5,16,16.5,16.5,17,17,17.5,17.5,17.5,18,18],
  [0,0,0,0.1,0.5,0.7,1.4,3.5,4.0,6.2,7.2,7.4, 7.4,7.4,7.4,7.4,7.4,7.4,7.4,7.4,7.5,7.5,7.6,7.6,
   7.7,7.8,8.0,8.2,8.5,9.0,9.2,9.5,9.8,10,10,10.2, 10.5,10.8,11,11.2,11.5,11.7,12,12,12.2,12.5,12.8,13,
   13.2,13.5,13.8,14,14.2,14.4,14.6,14.8,15,15,15,15],
  [0,0,0,0.1,0.2,0.4,0.8,2.0,2.3,3.5,3.9,4.0, 4.0,4.0,4.0,4.0,4.0,4.0,4.0,4.0,4.0,4.0,4.1,4.2,
   4.3,4.5,4.8,5.0,5.5,6,6.5,7,7.5,8,8.5,9, 9.5,9.8,10,10,10,10,10.2,10.4,10.6,10.8,11,11,
   11,11,11.2,11.4,11.6,11.8,12,12,12,12,12,12],
  [0,0,0,0.1,0.3,0.5,1.0,2.8,3.2,4.8,5.5,5.6, 5.6,5.6,5.6,5.6,5.6,5.6,5.6,5.6,5.6,5.6,5.6,5.7,
   5.7,5.8,5.8,5.9,6.0,6.1,6.2,6.3,6.4,6.5,6.5,6.6, 6.6,6.7,6.8,6.9,7.0,7.0,7.1,7.2,7.3,7.4,7.5,7.6,
   7.7,7.8,7.9,8.0,8.1,8.2,8.3,8.4,8.5,8.5,8.5,8.5],
  [0,0,0,0.1,0.2,0.3,0.7,1.8,2.1,3.0,3.3,3.4, 3.4,3.4,3.4,3.4,3.4,3.4,3.4,3.4,3.4,3.4,3.4,3.4,
   3.4,3.5,3.5,3.5,3.6,3.6,3.7,3.7,3.8,3.8,3.9,3.9, 4.0,4.0,4.0,4.1,4.1,4.2,4.2,4.3,4.3,4.4,4.4,4.5,
   4.5,4.6,4.6,4.7,4.7,4.8,4.8,4.9,4.9,5.0,5.0,5.0],
  [0,0,0,0.1,0.8,1.2,2.5,5.5,6.2,10,12.5,13.5, 13.5,13.5,13.5,13.5,13.5,13.5,13.5,13.5,13.5,13.5,13.5,13.5,
   13.5,13.5,13.5,13.5,13.8,14.0,14.5,14.5,14.5,14.8,15,15, 15,15,15,15.5,15.5,16,16.5,17,17,17.5,18,18,
   18.5,19,19.5,20,20.5,21,21,21.5,21.5,21.5,21.5,21.5],
  [0,0,0,0.1,0.4,0.7,1.4,3.6,4.1,6.5,7.8,8.0, 8.0,8.0,8.0,8.0,8.0,8.0,8.0,8.0,8.0,8.0,8.0,8.0,
   8.0,8.0,8.1,8.1,8.2,8.2,8.3,8.3,8.4,8.4,8.5,8.5, 8.6,8.6,8.7,8.8,8.9,9.0,9.0,9.1,9.2,9.3,9.4,9.5,
   9.6,9.7,9.8,9.9,10.0,10.1,10.2,10.3,10.4,10.5,10.5,10.5]
]

// ---- Sneeuwval ----
const snowControl = [0,0,0,0,0,0,0,0,0.05,0.4,0.05,0,
  0,0,0,0,0,0,0,0,0,0,0,0.1,
  0.7,0.1,0,0,0,0,0,0,0,0,0,0,
  0,0,0,0,0.15,0.1,0.25,0.75,0.45,0.2,0.05,0,
  0,0,0.02,0.07,0.05,0.08,0.05,0.02,0,0.02,0.03,0.08]
const snowHires = [0,0,0,0,0,0,0,0,0.1,0.4,0.05,0,
  0,0,0,0,0,0,0,0,0,0,0,0,
  0,0,0,0.05,0.2,0.3,0.05,0,0,0,0,0,
  0,0,0,0]
const snowP50 = [0,0,0,0,0,0,0,0,0,0,0,0,
  0,0,0,0,0,0,0,0,0,0,0,0,
  0,0,0,0,0,0,0,0,0,0,0,0,
  0,0,0,0,0,0,0,0,0,0,0,0,
  0,0,0,0,0,0,0,0,0,0,0,0]
const snowRuns = [
  [0,0,0,0,0,0,0,0,0.2,1.7,0.3,0, 0,0,0,0,0,0,0,0,0,0,0,0,
   0.2,0.5,1.0,2.3,5.9,6.9,2.0,0.5,0.3,0.2,0.1,0, 0,0,0,0,0,0.2,0.3,0.1,0,0,0,0.2,
   0.4,0.6,0.3,0.1,0,0,0.2,0.5,0.3,0.1,0.4,0.2],
  [0,0,0,0,0,0,0,0,1.1,0.4,0.1,0, 0,0,0,0,2.4,1.9,0.5,0.3,0.2,0.8,2.3,0.6,
   0.3,0.2,0.4,0.5,4.2,1.5,0.8,0.5,4.9,1.0,0.3,0.4, 0.2,0.1,0.3,0.2,0.1,0.5,0.8,0.4,0.2,0.3,0.5,1.2,
   0.6,0.4,0.2,0.3,0.5,0.2,0.1,0.3,0.2,0.4,0.6,0.3],
  [0,0,0,0,0,0,0,0,0.3,1.2,1.0,0.4, 0,0,0,0,0,0.4,0.8,1.2,0.6,2.3,0.5,0.2,
   0.3,0.6,0.4,0.8,1.0,4.5,3.0,1.5,0.5,5.5,1.2,0.4, 0.3,0.2,0.1,0.3,0.2,0.4,0.3,2.6,0.5,0.2,0.1,0.4,
   0.3,0.2,0.5,0.4,0.2,0.3,0.6,0.2,0.1,0.2,0.3,0.5],
  [0,0,0,0,0,0,0,0,0,0.5,0.7,0.2, 0,0,0,0,0,0,0,0,1.7,0.3,2.2,0.4,
   1.7,0.8,0.5,0.6,0.4,3.8,1.2,4.1,1.5,0.6,0.4,0.3, 2.9,0.8,0.3,0.2,0.1,0.3,0.2,0.5,0.3,0.2,0.4,0.6,
   4.5,1.2,0.4,0.3,0.2,0.5,0.3,0.2,0.3,0.4,0.2,0.1],
  [0,0,0,0,0,0,0,0,0,0.3,0.2,0, 0,0,0,0,0,0,0,0,0,0,0,0,
   0,0,0.2,0.4,1.2,2.0,0.8,1.6,0.6,3.6,0.8,3.6, 0.7,0.4,0.5,0.3,0.4,5.3,2.5,0.8,0.5,0.3,0.2,0.6,
   1.0,0.5,0.3,3.8,0.8,0.6,0.3,0.5,0.4,0.2,0.3,0.2],
  [0,0,0,0,0,0,0,0,0,0,0.1,0, 0,0,0,0,0,0,0,0,0,0,0,0,
   0,0,0,0,0.3,0.6,0.4,0.2,0.5,2.7,0.6,0.3, 0.5,1.1,2.5,0.4,0.3,4.7,3.5,1.6,0.5,0.3,0.2,0.4,
   2.9,0.7,0.5,0.3,2.3,0.5,0.4,0.6,0.3,0.5,2.5,1.8],
  [0,0,0,0,0,0,0,0,0,0.6,0.2,0, 0,0,0,0,0,0,0,0,0,0,0,0,
   0,0,0,0,0.2,0.4,0.3,0.5,1.0,0.7,0.4,1.1, 0.6,2.9,0.8,1.6,0.2,0.3,0.6,0.4,1.9,0.5,0.3,0.2,
   0.4,0.8,0.3,0.2,0.6,2.4,0.5,0.3,0.2,0.4,0.6,0.4],
  [0,0,0,0,0,0,0,0,0,0.2,0.1,0, 0,0,0,0,0,0,0,0,0,0,0,0,
   0,0,0,0,0.1,0.3,0.2,0.1,0.2,0.3,0.2,0.1, 0.2,0.3,0.2,0.1,0.2,0.3,0.2,0.1,0.2,0.4,0.3,0.2,
   0.1,0.3,0.4,0.2,0.3,0.2,0.1,3.6,0.5,0.3,0.2,0.4]
]

const FONT = 'DejaVu Sans'

// waarden koppelen aan tijdstippen
function toPairs(values) {
  return values.map((v, i) => [hours[i], v])
}

function yAxisDef(cfg, side) {
  return {
    type: 'value',
    position: side,
    min: cfg.min,
    max: cfg.max,
    interval: cfg.step,
    axisLine: { show: false },
    axisTick: { show: false },
    axisLabel: { color: '#666', fontSize: 11, fontFamily: FONT, margin: side === 'left' ? 16 : 15 },
    splitLine: { show: side === 'left', lineStyle: { color: '#e6e6e6' } }
  }
}

function renderPanel(selector, cfg) {
  const dom = document.querySelector(selector)
  const myChart = echarts.init(dom)

  const series = []
  // verstoorde runs (dunne groene lijnen)
  cfg.runs.forEach((run, k) => {
    const s = {
      name: 'Verstoorde runs',
      type: 'line',
      data: toPairs(run),
      symbol: 'none',
      silent: true,
      emphasis: { disabled: true },
      itemStyle: { color: '#008000' },
      lineStyle: { color: '#008000', width: 1, opacity: 0.5 }
    }
    if (k === 0) {
      // grijze dagbanden
      s.markArea = {
        silent: true,
        itemStyle: { color: 'rgba(0,0,0,0.055)' },
        data: greyDays.map(d => [{ xAxis: d[0] }, { xAxis: d[1] }])
      }
      if (cfg.zeroLine) {
        s.markLine = {
          silent: true,
          symbol: 'none',
          label: { show: false },
          lineStyle: { color: '#444', width: 1, type: 'solid' },
          data: [{ yAxis: 0 }]
        }
      }
    }
    series.push(s)
  })
  series.push({
    name: 'Middelste (P50)', type: 'line', data: toPairs(cfg.p50), symbol: 'none', silent: true,
    itemStyle: { color: '#a52a2a' },
    lineStyle: { color: '#a52a2a', width: 2, type: [7, 4] }
  })
  series.push({
    name: 'Controle', type: 'line', data: toPairs(cfg.control), symbol: 'none', silent: true,
    itemStyle: { color: '#000' },
    lineStyle: { color: '#000', width: 2, type: [7, 4] }
  })
  series.push({
    name: 'Hoge resolutie', type: 'line', data: toPairs(cfg.hires), symbol: 'none', silent: true,
    itemStyle: { color: '#ff0000' },
    lineStyle: { color: '#ff0000', width: 2 }
  })

  const option = {
    animation: false,
    textStyle: { fontFamily: FONT },
    title: {
      text: cfg.title,
      subtext: subTitle,
      left: 'center',
      top: 6,
      itemGap: 9,
      textStyle: { fontSize: 18, fontWeight: 'normal', color: '#333', fontFamily: FONT },
      subtextStyle: { fontSize: 11, color: '#666', fontFamily: FONT }
    },
    legend: {
      top: 369,
      left: 'center',
      itemWidth: 16,
      itemHeight: 10,
      itemGap: 14,
      selectedMode: false,
      itemStyle: { opacity: 0 },
      textStyle: { color: '#333', fontSize: 12, fontFamily: FONT },
      data: [
        { name: 'Controle' },
        { name: 'Hoge resolutie' },
        { name: 'Middelste (P50)' },
        { name: 'Verstoorde runs', lineStyle: { opacity: 1, width: 2 } }
      ]
    },
    grid: { left: 50, top: 62, width: 700, height: 261 },
    xAxis: {
      type: 'value',
      min: 3,
      max: 363,
      splitLine: { show: false },
      axisLine: { onZero: false, lineStyle: { color: '#ccd6eb' } },
      axisTick: { customValues: dayTicks, length: 8, lineStyle: { color: '#ccd6eb' } },
      axisLabel: {
        customValues: dayTicks,
        formatter: v => dayLabels[dayTicks.indexOf(v)],
        align: 'left',
        color: '#666',
        fontSize: 11,
        lineHeight: 15,
        margin: 7,
        fontFamily: FONT
      }
    },
    yAxis: [yAxisDef(cfg, 'left'), yAxisDef(cfg, 'right')],
    graphic: [
      {
        type: 'rect', silent: true, z: 100,
        shape: { x: 0.5, y: 0.5, width: 799, height: 399 },
        style: { fill: 'rgba(0,0,0,0)', stroke: '#8fb4ec', lineWidth: 1 }
      },
      {
        type: 'text', right: 11, bottom: 4, silent: true,
        style: { text: 'Bron: ECMWF/KNMI', fill: '#999', font: '9px "DejaVu Sans"' }
      }
    ],
    series: series
  }
  myChart.setOption(option)
}

renderPanel('#temp', { title: 'Temperatuur (˚C)', min: -15, max: 15, step: 5,
  control: tempControl, hires: tempHires, p50: tempP50, runs: tempRuns, zeroLine: true })
renderPanel('#wind', { title: 'Windsnelheid (km/uur)', min: 0, max: 55, step: 5,
  control: windControl, hires: windHires, p50: windP50, runs: windRuns })
renderPanel('#prec', { title: 'Neerslag (mm, 6 uurlijks)', min: 0, max: 10, step: 2,
  control: precControl, hires: precHires, p50: precP50, runs: precRuns })
renderPanel('#gust', { title: 'Windstoten (km/uur)', min: 0, max: 100, step: 20,
  control: gustControl, hires: gustHires, p50: gustP50, runs: gustRuns })
renderPanel('#sum', { title: 'Neerslagsom (mm)', min: 0, max: 50, step: 10,
  control: sumControl, hires: sumHires, p50: sumP50, runs: sumRuns })
renderPanel('#snow', { title: 'Sneeuwval (cm, 6 uurlijks)', min: 0, max: 10, step: 5,
  control: snowControl, hires: snowHires, p50: snowP50, runs: snowRuns })
</script>
</body>
</html>
